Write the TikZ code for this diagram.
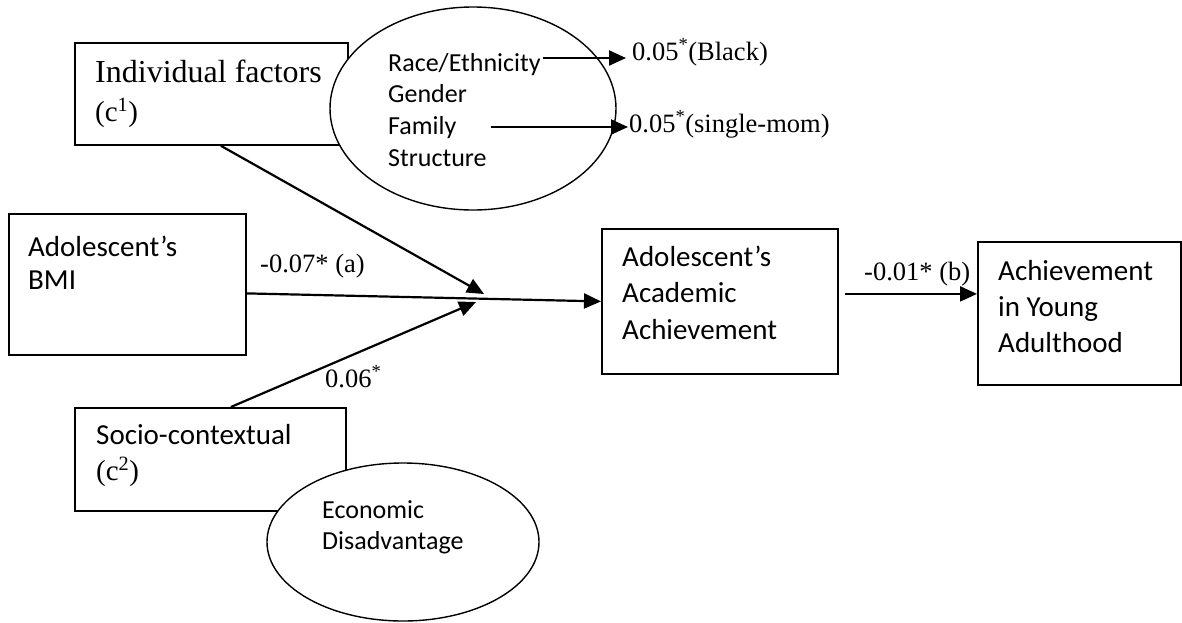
\documentclass[tikz,border=0pt]{standalone}
\usepackage{fontspec}
\setmainfont{Liberation Serif}
\setsansfont{Carlito}
\usetikzlibrary{arrows.meta,shapes.geometric}
\begin{document}
\begin{tikzpicture}[x=1pt,y=-1pt,
  box/.style={draw,line width=1.8pt,inner sep=0pt,anchor=north west},
  oval/.style={draw,ellipse,fill=white,line width=1.4pt,inner sep=0pt},
  arr/.style={line width=2.2pt,-{Triangle[length=17pt,width=15pt]}},
  boxtxt/.style={anchor=base west,inner sep=0pt,font=\sffamily\fontsize{29}{34}\selectfont},
  ovtxt/.style={anchor=base west,inner sep=0pt,font=\sffamily\fontsize{26}{30}\selectfont},
  serbig/.style={anchor=base west,inner sep=0pt,font=\rmfamily\fontsize{32}{36}\selectfont},
  lbl/.style={anchor=base west,inner sep=0pt,font=\rmfamily\fontsize{26.5}{30}\selectfont}]
\useasboundingbox (0,0) rectangle (1182,622);

% boxes
\node[box,minimum width=273pt,minimum height=102pt] (ind) at (74,42) {};
\node[box,minimum width=237pt,minimum height=141pt] (bmi) at (8,213) {};
\node[box,minimum width=236pt,minimum height=145pt] (acad) at (601,228) {};
\node[box,minimum width=203pt,minimum height=143pt] (ach) at (977,241) {};
\node[box,minimum width=271pt,minimum height=103pt] (soc) at (74,407) {};

% ellipses
\node[oval,minimum width=286pt,minimum height=203pt] (eth) at (473,108.5) {};
\node[oval,minimum width=272pt,minimum height=158pt] (eco) at (403,542) {};

% box texts
\node[serbig] (indt1) at (95,82) {Individual factors};
\node[serbig,font=\rmfamily\fontsize{29}{34}\selectfont] (indt2) at (95,121) {(c\textsuperscript{1})};
\node[boxtxt] (bmit1) at (28,256) {Adolescent’s};
\node[boxtxt] (bmit2) at (28,289) {BMI};
\node[boxtxt] (acat1) at (622,266) {Adolescent’s};
\node[boxtxt] (acat2) at (622,302) {Academic};
\node[boxtxt] (acat3) at (622,339) {Achievement};
\node[boxtxt] (acht1) at (998,280) {Achievement};
\node[boxtxt] (acht2) at (998,316) {in Young};
\node[boxtxt] (acht3) at (998,352) {Adulthood};
\node[boxtxt] (soct1) at (96,444) {Socio-contextual};
\node[serbig,font=\rmfamily\fontsize{29}{34}\selectfont] (soct2) at (96,480) {(c\textsuperscript{2})};

% ellipse texts
\node[ovtxt] (race) at (388,71) {Race/Ethnicity};
\node[ovtxt] (gen) at (388,102) {Gender};
\node[ovtxt] (fam) at (388,134) {Family};
\node[ovtxt] (str) at (388,166) {Structure};
\node[ovtxt] (ecot1) at (322,518) {Economic};
\node[ovtxt] (ecot2) at (322,549) {Disadvantage};

% labels
\node[lbl] (black) at (632,60) {0.05\textsuperscript{*}(Black)};
\node[lbl] (single) at (629,132) {0.05\textsuperscript{*}(single-mom)};
\node[lbl] (la) at (260,272) {-0.07* (a)};
\node[lbl] (lc) at (325,387) {0.06\textsuperscript{*}};
\node[lbl] (lb) at (864,280) {-0.01* (b)};

% connector ends
\coordinate (m1) at (484,294);
\coordinate (m2) at (476,302);
\coordinate (fs) at (491,127);

% arrows
\draw[arr] ([xshift=2pt]race.east |- 0,58) -- ([xshift=-6pt]black.west |- 0,58);
\draw[arr] (fs) -- ([xshift=-1pt]single.west |- fs);
\draw[arr] ([xshift=9.5pt]ind.south) -- (m1);
\draw[arr] ([yshift=-9pt]bmi.east) -- (acad.west);
\draw[arr] ([xshift=20.5pt]soc.north) -- (m2);
\draw[arr] ([xshift=6pt,yshift=7.5pt]acad.east) -- ([yshift=19.5pt]ach.west);
\end{tikzpicture}
\end{document}
